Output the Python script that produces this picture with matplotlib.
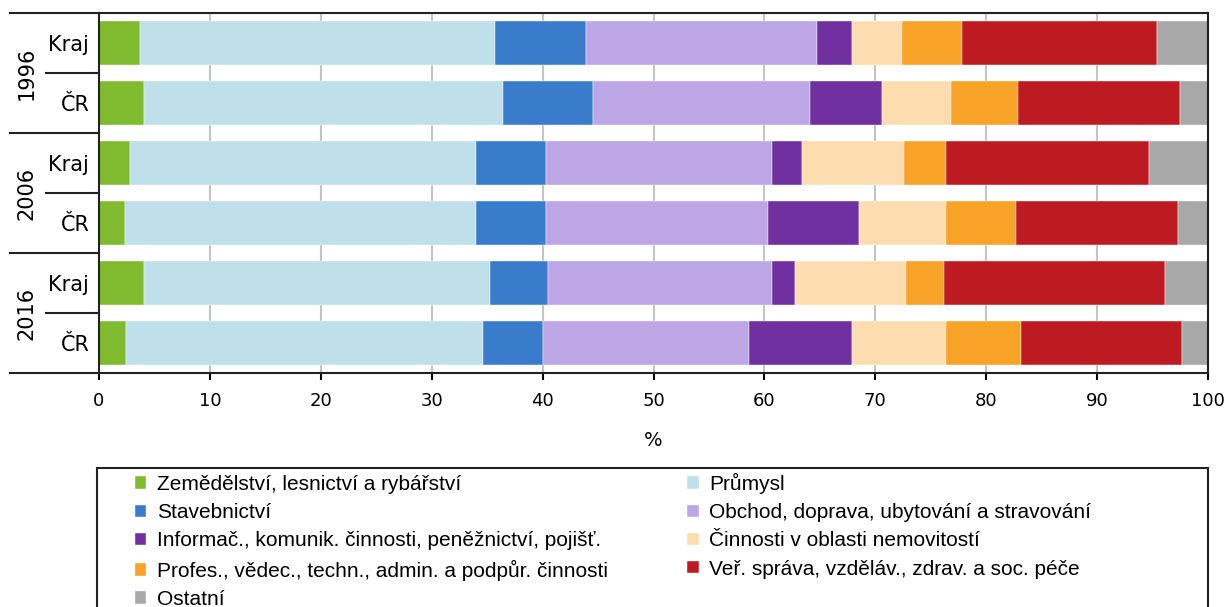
import matplotlib
matplotlib.use("Agg")
import matplotlib.pyplot as plt
from matplotlib.patches import Rectangle
import numpy as np

# rows from top to bottom
years = ["1996", "2006", "2016"]
row_labels = ["Kraj", "ČR", "Kraj", "ČR", "Kraj", "ČR"]

sectors = [
    "Zemědělství, lesnictví a rybářství",
    "Průmysl",
    "Stavebnictví",
    "Obchod, doprava, ubytování a stravování",
    "Informač., komunik. činnosti, peněžnictví, pojišť.",
    "Činnosti v oblasti nemovitostí",
    "Profes., vědec., techn., admin. a podpůr. činnosti",
    "Veř. správa, vzděláv., zdrav. a soc. péče",
    "Ostatní",
]
colors = ["#80ba2e", "#bfe0ea", "#397ccc", "#bda6e6", "#7030a0",
          "#fddcb0", "#f8a228", "#be1a22", "#a8a8a8"]

# shares in % per sector, rows: Kraj 1996, ČR 1996, Kraj 2006, ČR 2006, Kraj 2016, ČR 2016
zemedelstvi = [3.7, 4.1, 2.8, 2.3, 4.1, 2.4]
prumysl     = [32.0, 32.3, 31.2, 31.7, 31.2, 32.2]
stavebnictvi = [8.2, 8.1, 6.3, 6.3, 5.2, 5.4]
obchod      = [20.8, 19.6, 20.4, 20.0, 20.2, 18.6]
informac    = [3.2, 6.5, 2.7, 8.2, 2.1, 9.3]
nemovitosti = [4.5, 6.2, 9.2, 7.9, 10.0, 8.5]
profes      = [5.4, 6.1, 3.8, 6.3, 3.4, 6.7]
sprava      = [17.6, 14.6, 18.3, 14.6, 19.9, 14.6]
ostatni     = [4.6, 2.5, 5.3, 2.7, 3.9, 2.3]

data = [zemedelstvi, prumysl, stavebnictvi, obchod, informac,
        nemovitosti, profes, sprava, ostatni]

W, H = 1227, 607
fig = plt.figure(figsize=(W / 100, H / 100), dpi=100)
ax = fig.add_axes([99 / W, 1 - 373 / H, 1109 / W, 360 / H])

y = np.arange(len(row_labels))
left = np.zeros(len(row_labels))
handles = []
for name, vals, c in zip(sectors, data, colors):
    b = ax.barh(y, vals, left=left, height=0.73, color=c, label=name,
                edgecolor="white", linewidth=0.3, zorder=2)
    handles.append(b)
    left += np.array(vals)

ax.set_xlim(0, 100)
ax.set_ylim(5.5, -0.5)
ax.set_xticks(np.arange(0, 101, 10))
ax.grid(axis="x", color="#c4c4c4", linewidth=1.5, zorder=0)
ax.set_axisbelow(True)
ax.tick_params(axis="x", length=5, width=1.5, labelsize=13, pad=9)
ax.tick_params(axis="y", length=0, pad=7)
ax.set_yticks(y)
ax.set_yticklabels(row_labels, fontsize=15)
ax.set_xlabel("%", fontsize=14, labelpad=15)
for s in ax.spines.values():
    s.set_linewidth(1.5)
    s.set_color("#222222")

# grouping lines and year labels on the left
ytr = ax.get_yaxis_transform()
x_out = (10 - 99) / 1109
x_in = (46 - 99) / 1109
for k in range(len(years) + 1):
    ax.plot([x_out, 0], [k * 2 - 0.5] * 2, transform=ytr, color="#222222",
            lw=1.5, clip_on=False)
for k, yr in enumerate(years):
    ax.plot([x_in, 0], [k * 2 + 0.5] * 2, transform=ytr, color="#222222",
            lw=1.5, clip_on=False)
    ax.text((27 - 99) / 1109, k * 2 + 0.5, yr, transform=ytr, rotation=90,
            ha="center", va="center", fontsize=15)

# legend box runs past the bottom edge of the picture
fig.patches.append(Rectangle((97 / W, -0.1), 1111 / W, 0.1 + 1 - 468 / H,
                             transform=fig.transFigure, fill=False,
                             edgecolor="#222222", linewidth=1.5))

# legend: reorder so that it reads row-wise in two columns
order = [0, 2, 4, 6, 8, 1, 3, 5, 7]
leg = fig.legend([handles[i] for i in order], [sectors[i] for i in order],
                 loc="upper left", ncol=2,
                 bbox_to_anchor=(135 / W, 1 - 473 / H),
                 frameon=False,
                 prop={"family": "Liberation Sans", "size": 15},
                 handlelength=0.55, handleheight=0.55, handletextpad=0.5,
                 labelspacing=0.44, borderpad=0, borderaxespad=0,
                 columnspacing=3.8)

fig.savefig("out.png", dpi=100)
